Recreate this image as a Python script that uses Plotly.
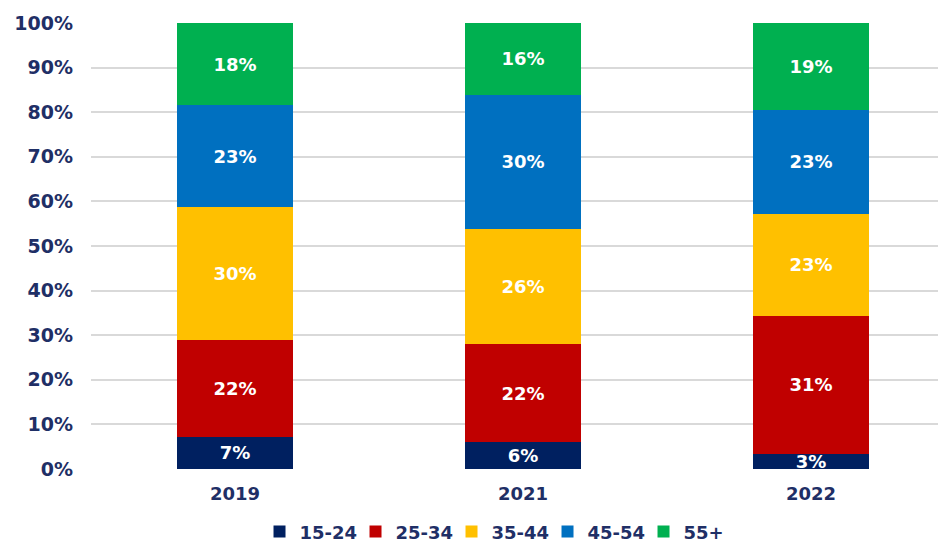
import plotly.graph_objects as go

years = ["2019", "2021", "2022"]
age_groups = ["15-24", "25-34", "35-44", "45-54", "55+"]
share_15_24 = [7.2, 6.0, 3.4]
share_25_34 = [21.7, 22.0, 30.9]
share_35_44 = [29.8, 25.8, 22.9]
share_45_54 = [22.9, 30.1, 23.4]
share_55_plus = [18.4, 16.1, 19.4]
y_ticks = [0, 10, 20, 30, 40, 50, 60, 70, 80, 90, 100]

series = [share_15_24, share_25_34, share_35_44, share_45_54, share_55_plus]
colors = ["#002060", "#C00000", "#FFC000", "#0070C0", "#00B050"]
navy = "#1F2F66"
font_family = "DejaVu Sans"

fig = go.Figure()
for name, vals, col in zip(age_groups, series, colors):
    fig.add_trace(go.Bar(
        x=years, y=vals, name=name,
        marker=dict(color=col, line=dict(width=0)),
        texttemplate="%{y:.0f}%",
        textposition="inside",
        insidetextanchor="middle",
        textangle=0,
        textfont=dict(family=font_family, size=18, color="white", weight="bold"),
        width=0.4,
        hoverinfo="skip",
    ))

# page body adds an 8px offset, so the figure is 938x534
fig.update_layout(
    barmode="stack",
    width=938, height=534,
    margin=dict(l=83, r=0, t=15, b=73, autoexpand=False),
    paper_bgcolor="white", plot_bgcolor="white",
    uniformtext=dict(minsize=18, mode="show"),
    showlegend=True,
    legend=dict(
        orientation="h", xref="container", yref="container",
        x=0.524, xanchor="center", y=0.019, yanchor="middle",
        entrywidth=51, entrywidthmode="pixels",
        font=dict(family=font_family, size=18, color=navy, weight="bold"),
        itemsizing="constant", traceorder="normal",
    ),
    xaxis=dict(
        range=[-0.5, 2.469], showgrid=False, zeroline=False, showline=False,
        ticks="", ticklabelstandoff=12, automargin=False,
        tickfont=dict(family=font_family, size=18, color=navy, weight="bold"),
    ),
    yaxis=dict(
        range=[0, 100], tickvals=y_ticks, ticktext=[f"{v}%" for v in y_ticks],
        showgrid=True, gridcolor="#D9D9D9", gridwidth=1.5,
        zeroline=False, showline=False, ticks="", ticklabelstandoff=17,
        automargin=False,
        tickfont=dict(family=font_family, size=19, color=navy, weight="bold"),
    ),
)

fig.write_html("out.html")
